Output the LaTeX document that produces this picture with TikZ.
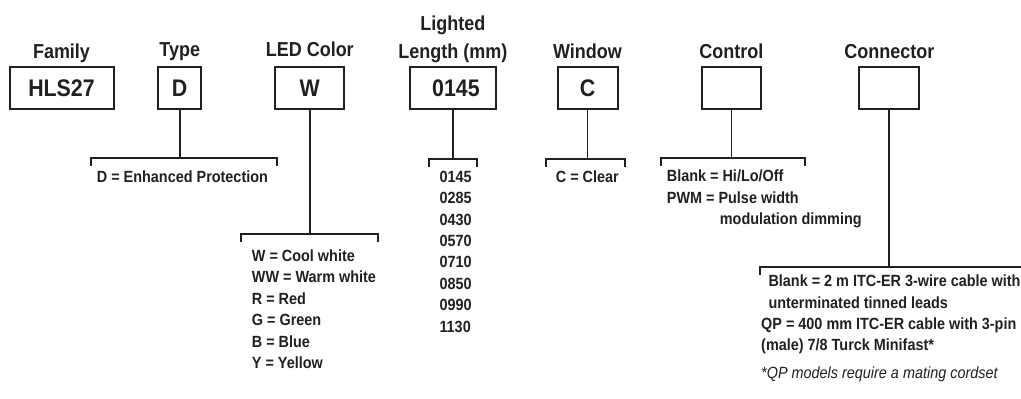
\documentclass[tikz,border=0pt]{standalone}
\usepackage{fontspec}
\setmainfont{Liberation Sans}[FakeStretch=0.89]
\usetikzlibrary{positioning}

\definecolor{ink}{HTML}{231F20}

\tikzset{
    codebox/.style={draw=ink, text=ink, line width=2pt, minimum height=42pt, inner sep=0pt,
        font=\fontsize{24}{24}\selectfont\bfseries},
    head/.style={anchor=base, inner sep=0pt, text=ink, align=center,
        font=\fontsize{20.2}{28}\selectfont\bfseries},
    desc/.style={anchor=base west, inner sep=0pt, text=ink, align=left,
        font=\fontsize{16.2}{21.4}\selectfont\bfseries},
    lead/.style={draw=ink, line width=1.8pt},
}

\begin{document}
\begin{tikzpicture}[x=1pt, y=-1pt]
    \useasboundingbox (0,0) rectangle (1021,399);

    % code boxes
    \node[codebox, minimum width=104pt] (box_fam)  at (61.5,88)  {HLS27};
    \node[codebox, minimum width=43pt]  (box_type) at (179.7,88) {D};
    \node[codebox, minimum width=69pt]  (box_led)  at (309.8,88) {W};
    \node[codebox, minimum width=86pt]  (box_len)  at (452.9,88) {\hspace*{6pt}0145};
    \node[codebox, minimum width=60pt]  (box_win)  at (587.5,88) {C};
    \node[codebox, minimum width=59pt]  (box_ctl)  at (731.4,88) {};
    \node[codebox, minimum width=60pt]  (box_con)  at (889.3,88) {};

    % headings (base = last line)
    \node[head] (h_fam)  at ([yshift=8pt]box_fam.north)  {Family};
    \node[head] (h_type) at ([yshift=10pt]box_type.north) {Type};
    \node[head] (h_led)  at ([yshift=10pt]box_led.north)  {LED Color};
    \node[head] (h_len)  at ([yshift=8pt]box_len.north)  {Lighted\\Length (mm)};
    \node[head] (h_win)  at ([yshift=8pt]box_win.north)  {Window};
    \node[head] (h_ctl)  at ([yshift=8pt]box_ctl.north)  {Control};
    \node[head] (h_con)  at ([yshift=8pt]box_con.north)  {Connector};

    % junctions under the boxes
    \coordinate (j_type) at (box_type.south |- 0,158.3);
    \coordinate (j_led)  at (box_led.south  |- 0,234.3);
    \coordinate (j_len)  at (box_len.south  |- 0,159.3);
    \coordinate (j_win)  at (box_win.south  |- 0,159.3);
    \coordinate (j_ctl)  at (box_ctl.south  |- 0,158.3);
    \coordinate (j_con)  at (box_con.south  |- 0,267.3);

    \draw[lead] (box_type) -- (j_type);
    \draw[lead] (box_led)  -- (j_led);
    \draw[lead] (box_len)  -- (j_len);
    \draw[lead] (box_win)  -- (j_win);
    \draw[lead] (box_ctl)  -- (j_ctl);
    \draw[lead] (box_con)  -- (j_con);

    % brackets
    \draw[lead] (90.7,166)  |- (j_type) -| (277.3,166);
    \draw[lead] (240.7,242) |- (j_led)  -| (377.7,242);
    \draw[lead] (429,167)   |- (j_len)  -| (477.3,167);
    \draw[lead] (546,167)   |- (j_win)  -| (625,167);
    \draw[lead] (661,166)   |- (j_ctl)  -| (804.7,166);
    \draw[lead] (760,275)   |- (j_con)  -- (1021,267.3);

    % choices (multi-line nodes sit on their last baseline)
    \node[desc] (d_type) at (96.7,182.7) {D = Enhanced Protection};
    \node[desc] (d_led)  at (251.7,368.5) {W = Cool white\\WW = Warm white\\R = Red\\G = Green\\B = Blue\\Y = Yellow};
    \node[desc] (d_len)  at (439.3,332) {0145\\0285\\0430\\0570\\0710\\0850\\0990\\1130};
    \node[desc] (d_win)  at (555.7,182.7) {C = Clear};
    \node[desc] (d_ctl)  at (666.7,224.5) {Blank = Hi/Lo/Off\\PWM = Pulse width\\\hspace*{53pt}modulation dimming};
    \node[desc] (d_con)  at (768.3,308.3) {Blank = 2 m ITC-ER 3-wire cable with\\unterminated tinned leads};
    \node[desc] (d_qp)   at (761,350.5) {QP = 400 mm ITC-ER cable with 3-pin\\(male) 7/8 Turck Minifast*};
    \node[desc, font=\fontsize{16.2}{21.4}\selectfont\itshape] (d_note) at (761,378) {*QP models require a mating cordset};
\end{tikzpicture}
\end{document}
